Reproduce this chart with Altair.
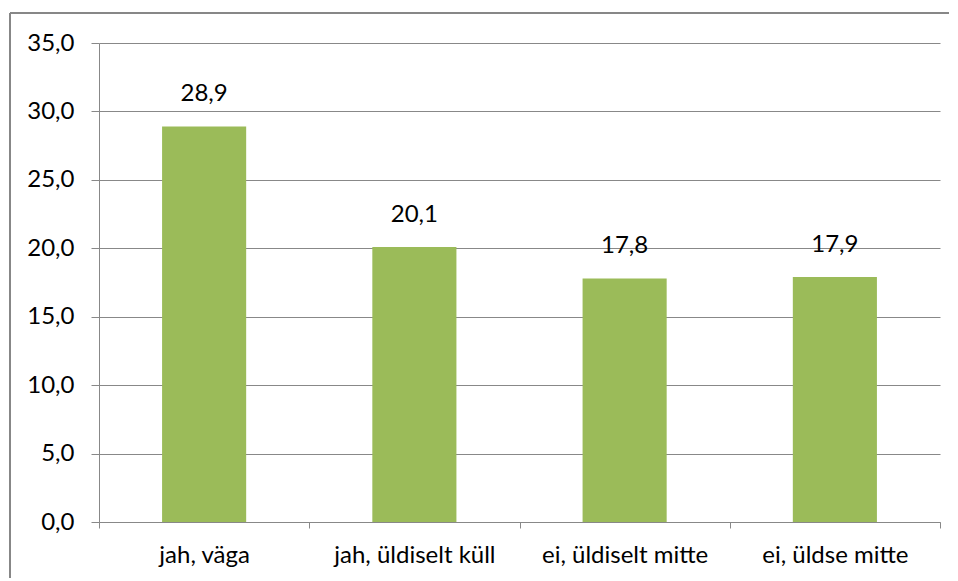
import altair as alt
import pandas as pd

categories = ["jah, väga", "jah, üldiselt küll", "ei, üldiselt mitte", "ei, üldse mitte"]
values = [28.9, 20.1, 17.8, 17.9]

df = pd.DataFrame({"cat": categories, "val": values})

GRID = "#888888"
FONT = "Lato"
FS = 24

base = alt.Chart(df)

bars = base.mark_bar(color="#9BBB59", width={"band": 0.4}).encode(
    x=alt.X("cat:N", sort=categories, title=None,
            scale=alt.Scale(paddingInner=0, paddingOuter=0),
            axis=alt.Axis(labelAngle=0, tickBand="extent", tickSize=6, tickColor=GRID,
                          domainColor=GRID, labelPadding=15, labelFontSize=FS,
                          labelFont=FONT, labelColor="#000000", grid=False)),
    y=alt.Y("val:Q", title=None,
            scale=alt.Scale(domain=[0, 35], nice=False),
            axis=alt.Axis(values=[0, 5, 10, 15, 20, 25, 30, 35], tickSize=8, tickColor=GRID,
                          domainColor=GRID, gridColor=GRID, gridWidth=1,
                          labelExpr="replace(format(datum.value, '.1f'), '.', ',')",
                          labelPadding=17, labelFontSize=FS, labelFont=FONT,
                          labelColor="#000000")),
)

labels = base.transform_calculate(
    lab="replace(format(datum.val, '.1f'), '.', ',')"
).mark_text(dy=-25, baseline="alphabetic", fontSize=FS, font=FONT, color="#000000").encode(
    x=alt.X("cat:N", sort=categories),
    y=alt.Y("val:Q"),
    text="lab:N",
)

border_left = alt.Chart(df).mark_rule(color="#878787", strokeWidth=2).encode(
    x=alt.value(-89), y=alt.value(-30), y2=alt.value(560)
)
border_top = alt.Chart(df).mark_rule(color="#878787", strokeWidth=2).encode(
    x=alt.value(-89), x2=alt.value(900), y=alt.value(-30)
)

chart = alt.layer(bars, labels, border_left, border_top).properties(
    width=841, height=479,
    padding={"left": 91, "top": 35, "right": 9, "bottom": 56},
    autosize=alt.AutoSizeParams(type="none"),
).configure_view(stroke=None)

chart.save("out.html", embed_options={"renderer": "svg", "actions": False})
